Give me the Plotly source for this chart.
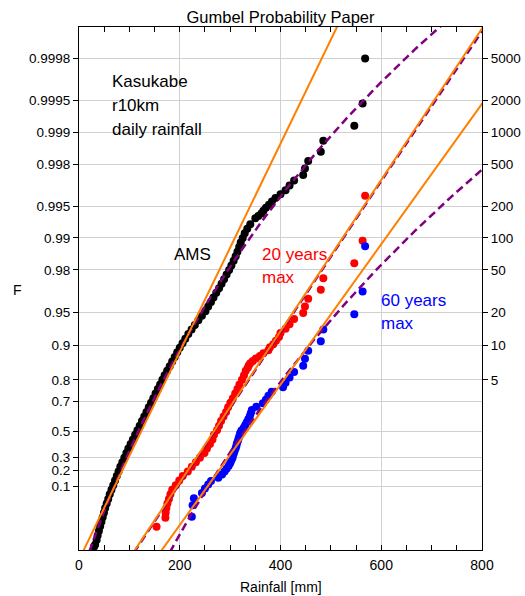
import numpy as np
import plotly.graph_objects as go

# ---------------- data ----------------
# Annual maximum series (AMS): rainfall [mm] and non-exceedance probability F
ams_rain = [30, 32, 35, 37, 39.5, 42, 44.5, 47, 49.5, 52, 55, 58, 61, 64.5, 68, 71.5, 75, 78.5, 82, 86,
            90, 94, 98, 102.5, 107, 111.5, 116, 120.5, 125, 129.5, 134, 138.5, 143, 147.5, 152, 156.5,
            161, 165.5, 170, 175, 180, 185, 190, 195, 200, 205.5, 211, 217, 223.5, 230, 237, 244, 251,
            256.5, 262, 267, 272.5, 278, 283, 288, 293, 298, 302.5, 307, 311, 314.5, 318, 321, 325, 329,
            334, 340,
            350, 356, 362, 366, 371, 377, 383, 390, 400, 410, 418, 427, 445, 448.6, 455, 480, 485, 546.5,
            563, 568]
ams_F = [0.000200, 0.0002841, 0.0006180, 0.001248, 0.002358, 0.004195, 0.007062, 0.01131, 0.01733,
         0.02549, 0.03615, 0.04958, 0.06599, 0.08547, 0.1080, 0.1335, 0.1617, 0.1923, 0.2250, 0.2592,
         0.2948, 0.3312, 0.3679, 0.4046, 0.4410, 0.4767, 0.5115, 0.5452, 0.5777, 0.6086, 0.6381, 0.6659,
         0.6922, 0.7169, 0.7400, 0.7615, 0.7815, 0.8000, 0.8172, 0.8330, 0.8476, 0.8611, 0.8734, 0.8848,
         0.8951, 0.9046, 0.9133, 0.9212, 0.9284, 0.9350, 0.9410, 0.9465, 0.9514, 0.9560, 0.9601, 0.9638,
         0.9672, 0.97025, 0.97305, 0.97558, 0.97788, 0.97996, 0.98185, 0.98356, 0.98512, 0.98652,
         0.98780, 0.98895, 0.99000, 0.99095, 0.99180, 0.99258,
         0.993467, 0.993800, 0.994134, 0.994467, 0.994800, 0.995134, 0.995467, 0.995800, 0.996134,
         0.996467, 0.996800, 0.997134, 0.997467, 0.997800, 0.998133, 0.998467, 0.998800, 0.999133,
         0.999467, 0.999800]

# 20-year maxima
max20_rain = [154, 171.5, 172, 173.5, 175.5, 178.5, 181.5, 185, 192, 199, 206, 216, 224, 232, 240, 249,
              254, 260, 265, 268, 274, 278, 282, 287, 292, 296, 300.5, 305.5, 310, 314.5, 318.5, 323.5,
              327.5, 331,
              335, 337, 340, 345, 351, 359, 366, 376, 379, 385.7, 391, 397, 400, 410, 418, 427, 445,
              448.6, 455, 480, 485, 546.5, 563, 568]
max20_F = [0.003995, 0.010652, 0.01733, 0.02549, 0.03615, 0.04958, 0.06599, 0.08547, 0.1080, 0.1335,
           0.1617, 0.1923, 0.2250, 0.2592, 0.2948, 0.3312, 0.3679, 0.4046, 0.4410, 0.4767, 0.5115,
           0.5452, 0.5777, 0.6086, 0.6381, 0.6659, 0.6922, 0.7169, 0.7400, 0.7615, 0.7815, 0.8000,
           0.8172, 0.8330,
           0.842876, 0.849534, 0.856192, 0.862850, 0.869507, 0.876165, 0.882823, 0.889481, 0.896138,
           0.902796, 0.909454, 0.916112, 0.922770, 0.929427, 0.936085, 0.942743, 0.949401, 0.956059,
           0.962716, 0.969374, 0.976032, 0.982690, 0.989348, 0.996005]

# 60-year maxima
max60_rain = [224, 225.5, 228, 244, 250, 256.5, 262, 276.5, 284, 289, 293, 297, 300, 302, 304.5, 305.5,
              307.5, 309, 311, 312.5, 313.5, 315.5, 317, 318.5, 320, 322.5, 327, 330, 333, 336, 339, 341,
              343, 352, 365, 371, 376, 382.5, 405, 410, 418, 427, 445, 448.6, 455, 480, 485, 546.5, 563,
              568]
max60_F = [0.01195, 0.03187, 0.05179, 0.07171, 0.09163, 0.11155, 0.13147, 0.15139, 0.17131, 0.19124,
           0.21116, 0.23108, 0.25100, 0.27092, 0.29084, 0.31076, 0.33068, 0.35060, 0.37052, 0.39044,
           0.41036, 0.43028, 0.45020, 0.47012, 0.49004, 0.50996, 0.52988, 0.54980, 0.56972, 0.58964,
           0.60956, 0.62948, 0.64940, 0.66932, 0.68924, 0.70916, 0.72908, 0.74900, 0.76892, 0.78884,
           0.80876, 0.82869, 0.84861, 0.86853, 0.88845, 0.90837, 0.92829, 0.94821, 0.96813, 0.98805]

# fitted distributions: Gumbel (location, scale) and GEV (location, scale, shape k)
gumbel_ams = (107.0, 44.0)
gumbel_20 = (245.0, 60.5)
gumbel_60 = (309.0, 65.2)
gev_ams = (102.0, 40.6, -0.10)
gev_20 = (245.5, 60.3, -0.002)
gev_60 = (305.0, 61.0, -0.09)

F_ticks = [0.1, 0.2, 0.3, 0.5, 0.7, 0.8, 0.9, 0.95, 0.98, 0.99, 0.995, 0.998, 0.999, 0.9995, 0.9998]
F_tick_text = ["0.1", "0.2", "0.3", "0.5", "0.7", "0.8", "0.9", "0.95", "0.98", "0.99", "0.995",
               "0.998", "0.999", "0.9995", "0.9998"]
T_ticks = [5, 10, 20, 50, 100, 200, 500, 1000, 2000, 5000]
T_tick_text = [str(t) for t in T_ticks]
x_ticks = [0, 200, 400, 600, 800]


def gumbel_y(F):
    """Gumbel reduced variate used as the linear coordinate of the paper."""
    F = np.asarray(F, dtype=float)
    return -np.log(-np.log(F))


Y_RANGE = [-2.216, 9.207]
ys = np.linspace(-2.5, 9.5, 400)


def gumbel_q(p):
    u, a = p
    return u + a * ys


def gev_q(p):
    u, a, k = p
    return u + a / k * (1.0 - np.exp(-k * ys))


FONT = "Liberation Sans, Arial, Helvetica, sans-serif"
ORANGE = "#ff7f00"
PURPLE = "#800080"

fig = go.Figure()
for rain, F, col in [(ams_rain, ams_F, "black"), (max20_rain, max20_F, "red"),
                     (max60_rain, max60_F, "blue")]:
    fig.add_trace(go.Scatter(x=rain, y=gumbel_y(F), mode="markers",
                             marker=dict(color=col, size=8, line=dict(width=0)),
                             showlegend=False, hoverinfo="skip"))

for p in [gev_ams, gev_20, gev_60]:
    fig.add_trace(go.Scatter(x=gev_q(p), y=ys, mode="lines", yaxis="y2",
                             line=dict(color=PURPLE, width=2.5, dash="8px,4.5px"),
                             showlegend=False, hoverinfo="skip"))
for p in [gumbel_ams, gumbel_20, gumbel_60]:
    fig.add_trace(go.Scatter(x=gumbel_q(p), y=ys, mode="lines", yaxis="y2",
                             line=dict(color=ORANGE, width=2),
                             showlegend=False, hoverinfo="skip"))

annots = [
    ("Kasukabe", 0.0769, 0.8959, "black", 17, "left"),
    ("r10km", 0.0769, 0.8492, "black", 17, "left"),
    ("daily rainfall", 0.0769, 0.8047, "black", 17, "left"),
    ("AMS", 0.2300, 0.5658, "black", 17, "left"),
    ("20 years", 0.4491, 0.5658, "red", 17, "left"),
    ("max", 0.4491, 0.5213, "red", 17, "left"),
    ("60 years", 0.7452, 0.4779, "blue", 17, "left"),
    ("max", 0.7452, 0.4334, "blue", 17, "left"),
    ("F", -0.1538, 0.4968, "black", 14, "center"),
    ("Rainfall [mm]", 0.5007, -0.0707, "black", 14, "center"),
]
annotations = [dict(text=t, x=x, y=y, xref="paper", yref="paper", xanchor=xa, yanchor="middle",
                    showarrow=False, font=dict(color=c, size=s, family=FONT))
               for t, x, y, c, s, xa in annots]

fig.update_layout(
    width=525, height=596, autosize=False,
    margin=dict(l=79, r=43, t=27, b=46, pad=0, autoexpand=False),
    paper_bgcolor="white", plot_bgcolor="white",
    font=dict(family=FONT, size=13.5, color="black"),
    title=dict(text="Gumbel Probability Paper", x=0.5, xref="paper", xanchor="center",
               y=1 - 17.5 / 596, yref="container", yanchor="middle",
               font=dict(size=16.5, family=FONT, color="black")),
    xaxis=dict(range=[0, 800], tickvals=x_ticks, ticks="inside", ticklen=5, tickwidth=1,
               tickcolor="black", showline=True, linecolor="black", linewidth=1, mirror="ticks",
               showgrid=True, gridcolor="#d0d0d0", gridwidth=1, zeroline=False, automargin=False,
               minor=dict(dtick=50, tick0=0, ticks="inside", ticklen=5, tickcolor="black",
                          showgrid=False),
               tickfont=dict(size=14), ticklabelstandoff=2),
    yaxis=dict(range=Y_RANGE, tickvals=gumbel_y(F_ticks), ticktext=F_tick_text,
               ticks="outside", ticklen=5, tickwidth=1, tickcolor="black",
               showline=True, linecolor="black", linewidth=1, mirror=False, automargin=False,
               showgrid=True, gridcolor="#d0d0d0", gridwidth=1, zeroline=False,
               tickfont=dict(size=13.5), ticklabelstandoff=0),
    yaxis2=dict(range=Y_RANGE, overlaying="y", side="right", automargin=False,
                tickvals=gumbel_y(1 - 1 / np.array(T_ticks, dtype=float)), ticktext=T_tick_text,
                ticks="outside", ticklen=5, tickwidth=1, tickcolor="black",
                showline=True, linecolor="black", linewidth=1, showgrid=False, zeroline=False,
                tickfont=dict(size=13.5), ticklabelstandoff=0),
    annotations=annotations,
    showlegend=False,
)

fig.write_html("out.html")
